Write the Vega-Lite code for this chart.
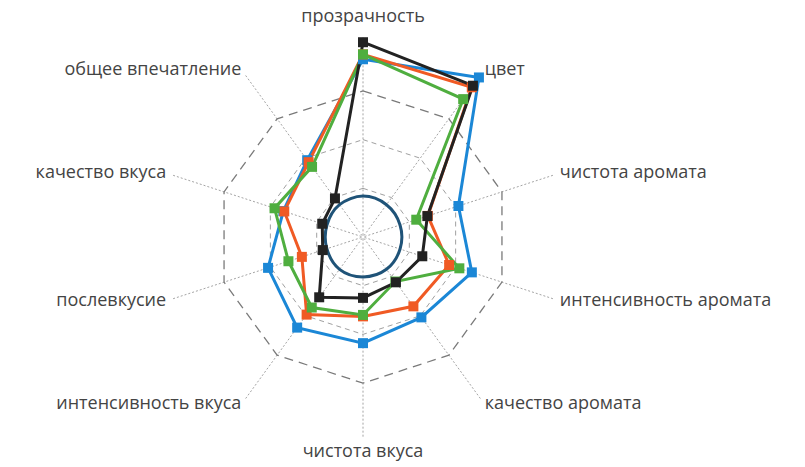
{
  "$schema": "https://vega.github.io/schema/vega-lite/v6.json",
  "width": 805,
  "height": 467,
  "padding": 0,
  "autosize": {"type": "none"},
  "background": "white",
  "config": {"view": {"stroke": null}},
  "datasets": {
    "axes": [
      {"idx": 0, "name": "прозрачность"},
      {"idx": 1, "name": "цвет"},
      {"idx": 2, "name": "чистота аромата"},
      {"idx": 3, "name": "интенсивность аромата"},
      {"idx": 4, "name": "качество аромата"},
      {"idx": 5, "name": "чистота вкуса"},
      {"idx": 6, "name": "интенсивность вкуса"},
      {"idx": 7, "name": "послевкусие"},
      {"idx": 8, "name": "качество вкуса"},
      {"idx": 9, "name": "общее впечатление"}
    ],
    "rings": [
      {"ring": 1, "idx": 0}, {"ring": 1, "idx": 1}, {"ring": 1, "idx": 2}, {"ring": 1, "idx": 3}, {"ring": 1, "idx": 4},
      {"ring": 1, "idx": 5}, {"ring": 1, "idx": 6}, {"ring": 1, "idx": 7}, {"ring": 1, "idx": 8}, {"ring": 1, "idx": 9},
      {"ring": 2, "idx": 0}, {"ring": 2, "idx": 1}, {"ring": 2, "idx": 2}, {"ring": 2, "idx": 3}, {"ring": 2, "idx": 4},
      {"ring": 2, "idx": 5}, {"ring": 2, "idx": 6}, {"ring": 2, "idx": 7}, {"ring": 2, "idx": 8}, {"ring": 2, "idx": 9},
      {"ring": 3, "idx": 0}, {"ring": 3, "idx": 1}, {"ring": 3, "idx": 2}, {"ring": 3, "idx": 3}, {"ring": 3, "idx": 4},
      {"ring": 3, "idx": 5}, {"ring": 3, "idx": 6}, {"ring": 3, "idx": 7}, {"ring": 3, "idx": 8}, {"ring": 3, "idx": 9}
    ],
    "values": [
      {"s": "s0", "idx": 0, "v": 0.84}, {"s": "s0", "idx": 1, "v": 0.82}, {"s": "s0", "idx": 2, "v": 0.8}, {"s": "s0", "idx": 3, "v": 0.8}, {"s": "s0", "idx": 4, "v": 0.82},
      {"s": "s0", "idx": 5, "v": 0.82}, {"s": "s0", "idx": 6, "v": 0.82}, {"s": "s0", "idx": 7, "v": 0.78}, {"s": "s0", "idx": 8, "v": 0.78}, {"s": "s0", "idx": 9, "v": 0.82},
      {"s": "s1", "idx": 0, "v": 3.65}, {"s": "s1", "idx": 1, "v": 4.05}, {"s": "s1", "idx": 2, "v": 2.06}, {"s": "s1", "idx": 3, "v": 2.35}, {"s": "s1", "idx": 4, "v": 2.04},
      {"s": "s1", "idx": 5, "v": 2.18}, {"s": "s1", "idx": 6, "v": 2.3}, {"s": "s1", "idx": 7, "v": 2.05}, {"s": "s1", "idx": 8, "v": 1.72}, {"s": "s1", "idx": 9, "v": 1.95},
      {"s": "s2", "idx": 0, "v": 3.75}, {"s": "s2", "idx": 1, "v": 3.8}, {"s": "s2", "idx": 2, "v": 1.4}, {"s": "s2", "idx": 3, "v": 1.86}, {"s": "s2", "idx": 4, "v": 1.76},
      {"s": "s2", "idx": 5, "v": 1.63}, {"s": "s2", "idx": 6, "v": 1.97}, {"s": "s2", "idx": 7, "v": 1.32}, {"s": "s2", "idx": 8, "v": 1.7}, {"s": "s2", "idx": 9, "v": 1.9},
      {"s": "s3", "idx": 0, "v": 3.75}, {"s": "s3", "idx": 1, "v": 3.5}, {"s": "s3", "idx": 2, "v": 1.15}, {"s": "s3", "idx": 3, "v": 2.08}, {"s": "s3", "idx": 4, "v": 1.13},
      {"s": "s3", "idx": 5, "v": 1.6}, {"s": "s3", "idx": 6, "v": 1.79}, {"s": "s3", "idx": 7, "v": 1.61}, {"s": "s3", "idx": 8, "v": 1.91}, {"s": "s3", "idx": 9, "v": 1.78},
      {"s": "s4", "idx": 0, "v": 4.0}, {"s": "s4", "idx": 1, "v": 3.84}, {"s": "s4", "idx": 2, "v": 1.39}, {"s": "s4", "idx": 3, "v": 1.28}, {"s": "s4", "idx": 4, "v": 1.15},
      {"s": "s4", "idx": 5, "v": 1.25}, {"s": "s4", "idx": 6, "v": 1.53}, {"s": "s4", "idx": 7, "v": 0.87}, {"s": "s4", "idx": 8, "v": 0.88}, {"s": "s4", "idx": 9, "v": 0.98}
    ]
  },
  "layer": [
    {
      "data": {"name": "axes"},
      "transform": [
        {"calculate": "datum.idx * PI / 5", "as": "a"},
        {"calculate": "4.1 * sin(datum.a)", "as": "x"},
        {"calculate": "4.1 * cos(datum.a)", "as": "y"}
      ],
      "mark": {"type": "rule", "color": "#9a9a9a", "strokeWidth": 0.9, "strokeDash": [2, 2]},
      "encoding": {
        "x": {"field": "x", "type": "quantitative", "scale": {"domain": [-7.454, 9.076], "nice": false, "zero": false}, "axis": null},
        "y": {"field": "y", "type": "quantitative", "scale": {"domain": [-4.723, 4.867], "nice": false, "zero": false}, "axis": null},
        "x2": {"datum": 0},
        "y2": {"datum": 0}
      }
    },
    {
      "data": {"name": "rings"},
      "transform": [
        {"filter": "datum.ring < 3"},
        {"calculate": "datum.idx * PI / 5", "as": "a"},
        {"calculate": "datum.ring * sin(datum.a)", "as": "x"},
        {"calculate": "datum.ring * cos(datum.a)", "as": "y"}
      ],
      "mark": {"type": "line", "interpolate": "linear-closed", "color": "#a0a0a0", "strokeWidth": 1, "strokeDash": [5, 4]},
      "encoding": {
        "x": {"field": "x", "type": "quantitative", "scale": {"domain": [-7.454, 9.076], "nice": false, "zero": false}, "axis": null},
        "y": {"field": "y", "type": "quantitative", "scale": {"domain": [-4.723, 4.867], "nice": false, "zero": false}, "axis": null},
        "detail": {"field": "ring", "type": "nominal"},
        "order": {"field": "idx", "type": "quantitative"}
      }
    },
    {
      "data": {"name": "rings"},
      "transform": [
        {"filter": "datum.ring == 3"},
        {"calculate": "datum.idx * PI / 5", "as": "a"},
        {"calculate": "datum.ring * sin(datum.a)", "as": "x"},
        {"calculate": "datum.ring * cos(datum.a)", "as": "y"}
      ],
      "mark": {"type": "line", "interpolate": "linear-closed", "color": "#7a7a7a", "strokeWidth": 1.3, "strokeDash": [9, 6]},
      "encoding": {
        "x": {"field": "x", "type": "quantitative", "scale": {"domain": [-7.454, 9.076], "nice": false, "zero": false}, "axis": null},
        "y": {"field": "y", "type": "quantitative", "scale": {"domain": [-4.723, 4.867], "nice": false, "zero": false}, "axis": null},
        "detail": {"field": "ring", "type": "nominal"},
        "order": {"field": "idx", "type": "quantitative"}
      }
    },
    {
      "data": {"name": "values"},
      "transform": [
        {"filter": "datum.s == 's0'"},
        {"calculate": "datum.idx * PI / 5", "as": "a"},
        {"calculate": "datum.v * sin(datum.a)", "as": "x"},
        {"calculate": "datum.v * cos(datum.a)", "as": "y"}
      ],
      "mark": {"type": "line", "interpolate": "cardinal-closed", "strokeWidth": 3, "color": "#1f5378"},
      "encoding": {
        "x": {"field": "x", "type": "quantitative", "scale": {"domain": [-7.454, 9.076], "nice": false, "zero": false}, "axis": null},
        "y": {"field": "y", "type": "quantitative", "scale": {"domain": [-4.723, 4.867], "nice": false, "zero": false}, "axis": null},
        "order": {"field": "idx", "type": "quantitative"}
      }
    },
    {
      "data": {"name": "values"},
      "transform": [
        {"filter": "datum.s != 's0'"},
        {"calculate": "datum.idx * PI / 5", "as": "a"},
        {"calculate": "datum.v * sin(datum.a)", "as": "x"},
        {"calculate": "datum.v * cos(datum.a)", "as": "y"}
      ],
      "mark": {"type": "line", "interpolate": "linear-closed", "strokeWidth": 3},
      "encoding": {
        "x": {"field": "x", "type": "quantitative", "scale": {"domain": [-7.454, 9.076], "nice": false, "zero": false}, "axis": null},
        "y": {"field": "y", "type": "quantitative", "scale": {"domain": [-4.723, 4.867], "nice": false, "zero": false}, "axis": null},
        "color": {"field": "s", "type": "nominal", "scale": {"domain": ["s1", "s2", "s3", "s4"], "range": ["#1b87d6", "#f05a24", "#4fae3f", "#222222"]}, "legend": null},
        "order": {"field": "idx", "type": "quantitative"}
      }
    },
    {
      "data": {"name": "values"},
      "transform": [
        {"filter": "datum.s != 's0'"},
        {"calculate": "datum.idx * PI / 5", "as": "a"},
        {"calculate": "datum.v * sin(datum.a)", "as": "x"},
        {"calculate": "datum.v * cos(datum.a)", "as": "y"}
      ],
      "mark": {"type": "point", "shape": "square", "filled": true, "opacity": 1, "size": 100},
      "encoding": {
        "x": {"field": "x", "type": "quantitative", "scale": {"domain": [-7.454, 9.076], "nice": false, "zero": false}, "axis": null},
        "y": {"field": "y", "type": "quantitative", "scale": {"domain": [-4.723, 4.867], "nice": false, "zero": false}, "axis": null},
        "color": {"field": "s", "type": "nominal", "scale": {"domain": ["s1", "s2", "s3", "s4"], "range": ["#1b87d6", "#f05a24", "#4fae3f", "#222222"]}, "legend": null},
        "order": {"field": "s", "type": "nominal"}
      }
    },
    {
      "data": {"name": "axes"},
      "transform": [
        {"filter": "datum.idx == 0 || datum.idx == 5"},
        {"calculate": "datum.idx * PI / 5", "as": "a"},
        {"calculate": "4.46 * sin(datum.a)", "as": "x"},
        {"calculate": "(datum.idx == 0 ? 4.52 : 4.42) * cos(datum.a)", "as": "y"}
      ],
      "mark": {"type": "text", "align": "center", "baseline": "middle", "font": "Open Sans", "fontSize": 18, "color": "#444444"},
      "encoding": {
        "x": {"field": "x", "type": "quantitative", "scale": {"domain": [-7.454, 9.076], "nice": false, "zero": false}, "axis": null},
        "y": {"field": "y", "type": "quantitative", "scale": {"domain": [-4.723, 4.867], "nice": false, "zero": false}, "axis": null},
        "text": {"field": "name", "type": "nominal"}
      }
    },
    {
      "data": {"name": "axes"},
      "transform": [
        {"filter": "datum.idx >= 1 && datum.idx <= 4"},
        {"calculate": "datum.idx * PI / 5", "as": "a"},
        {"calculate": "4.25 * sin(datum.a)", "as": "x"},
        {"calculate": "4.25 * cos(datum.a)", "as": "y"}
      ],
      "mark": {"type": "text", "align": "left", "baseline": "middle", "font": "Open Sans", "fontSize": 18, "color": "#444444"},
      "encoding": {
        "x": {"field": "x", "type": "quantitative", "scale": {"domain": [-7.454, 9.076], "nice": false, "zero": false}, "axis": null},
        "y": {"field": "y", "type": "quantitative", "scale": {"domain": [-4.723, 4.867], "nice": false, "zero": false}, "axis": null},
        "text": {"field": "name", "type": "nominal"}
      }
    },
    {
      "data": {"name": "axes"},
      "transform": [
        {"filter": "datum.idx >= 6"},
        {"calculate": "datum.idx * PI / 5", "as": "a"},
        {"calculate": "4.25 * sin(datum.a)", "as": "x"},
        {"calculate": "4.25 * cos(datum.a)", "as": "y"}
      ],
      "mark": {"type": "text", "align": "right", "baseline": "middle", "font": "Open Sans", "fontSize": 18, "color": "#444444"},
      "encoding": {
        "x": {"field": "x", "type": "quantitative", "scale": {"domain": [-7.454, 9.076], "nice": false, "zero": false}, "axis": null},
        "y": {"field": "y", "type": "quantitative", "scale": {"domain": [-4.723, 4.867], "nice": false, "zero": false}, "axis": null},
        "text": {"field": "name", "type": "nominal"}
      }
    }
  ]
}
